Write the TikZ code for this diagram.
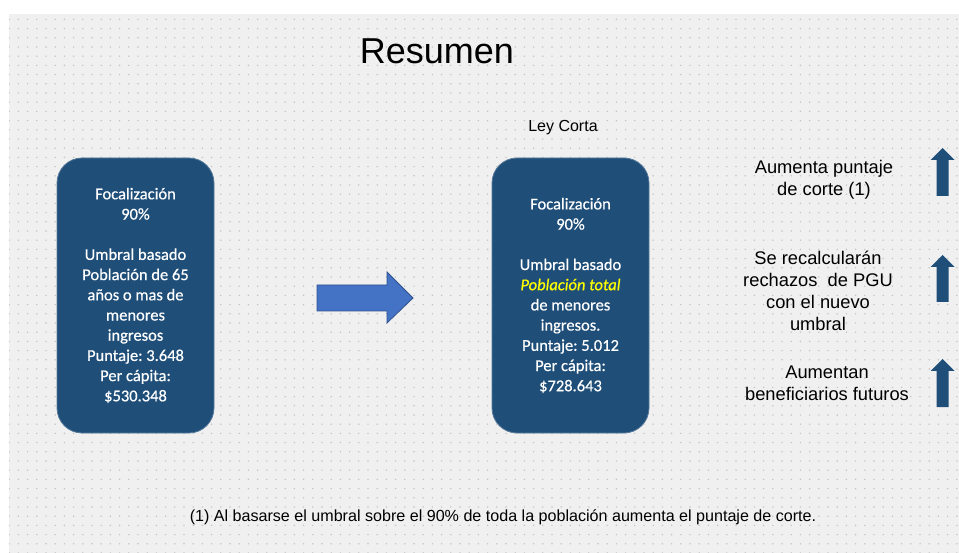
\documentclass[tikz,border=0pt]{standalone}
\usepackage{fontspec}
\setmainfont{Liberation Sans}
\newfontfamily\boxfont{Carlito}[BoldFont=Carlito, BoldItalicFont=Carlito Italic,
  BoldFeatures={FakeBold=0.5}, BoldItalicFeatures={FakeBold=0.5}]
\usetikzlibrary{patterns.meta}

\definecolor{boxblue}{HTML}{1F4E79}
\definecolor{arrowblue}{HTML}{4472C4}
\definecolor{arrowedge}{HTML}{2F528F}
\definecolor{paper}{HTML}{F0F0F0}
\definecolor{dotgray}{HTML}{C2C2C2}
\definecolor{hilite}{HTML}{FFFF00}

\begin{document}
\frenchspacing
\begin{tikzpicture}[x=1pt, y=-1pt,
      every node/.style = {align=center, inner sep=0pt},
      focobox/.style = {shape=rectangle, rounded corners=25pt,
        fill=boxblue, draw=boxblue!75!white, line width=0.8pt,
        minimum width=157pt, minimum height=275pt, text=white,
        font=\boxfont\bfseries\fontsize{16.5}{20.2}\selectfont},
      notetext/.style = {font=\fontsize{18.3}{21.8}\selectfont}]
  \useasboundingbox (0,0) rectangle (959,553);
  % dotted slide background
  \fill[white] (0,0) rectangle (959,553);
  \fill[paper] (9,14) rectangle (959,553);
  \fill[pattern={Dots[distance=9.2pt, radius=0.8pt]}, pattern color=dotgray]
    (9,14) rectangle (959,553);

  \node[anchor=base, font=\fontsize{36}{40}\selectfont] (title) at (437,64) {Resumen};
  \node[anchor=base, font=\fontsize{16}{18}\selectfont] (ley) at (563,132) {Ley Corta};

  \node[focobox] (antes) at (135.5,295.5) {Focalización\\90\%\\[20.2pt]Umbral basado\\Población de 65\\años o mas de\\menores\\ingresos\\Puntaje: 3.648\\Per cápita:\\\$530.348};
  \node[focobox] (ahora) at (570.5,295.5) {Focalización\\90\%\\[20.2pt]Umbral basado\\{\color{hilite}\itshape Población total}\\de menores\\ingresos.\\Puntaje: 5.012\\Per cápita:\\\$728.643};

  % block arrow between the boxes
  \draw[fill=arrowblue, draw=arrowedge, line width=0.8pt]
    (317,285) -- (387,285) -- (387,272) -- (413,298) -- (387,323)
    -- (387,311) -- (317,311) -- cycle;

  \node[notetext] (nota1) at (824,179.5) {Aumenta puntaje\\de corte (1)};
  \node[notetext] (nota2) at (818,291) {Se recalcularán\\rechazos\ \ de PGU\\con el nuevo\\umbral};
  \node[notetext] (nota3) at (827,383) {Aumentan\\beneficiarios futuros};

  % up arrows
  \foreach \t/\b in {148/196, 255/302, 359/407}
    \fill[boxblue] (942.5,\t) -- (954.5,\t+12) -- (948.7,\t+12) -- (948.7,\b)
      -- (936.5,\b) -- (936.5,\t+12) -- (930.5,\t+12) -- cycle;

  \node[anchor=base, font=\fontsize{16.1}{18}\selectfont] (pie) at (503,521)
    {(1) Al basarse el umbral sobre el 90\% de toda la población aumenta el puntaje de corte.};
\end{tikzpicture}
\end{document}
